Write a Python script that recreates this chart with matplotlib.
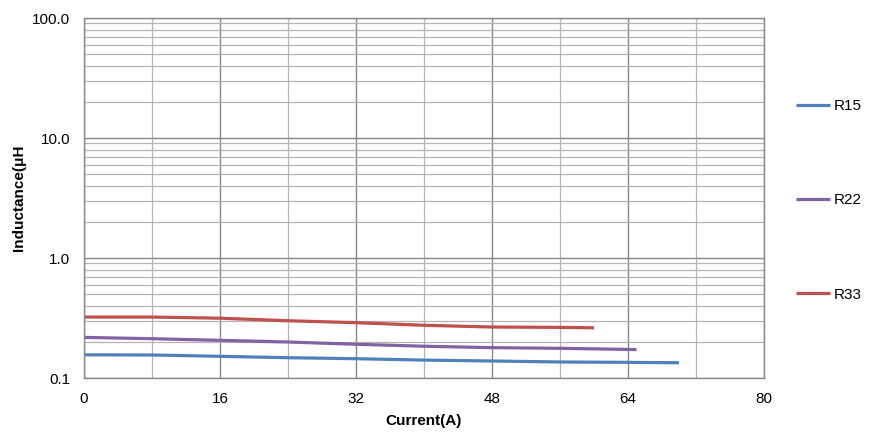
import matplotlib
matplotlib.use("Agg")
import matplotlib.pyplot as plt
from matplotlib.ticker import FixedLocator, FixedFormatter, LogLocator, NullFormatter

plt.rcParams['font.family'] = ['Liberation Sans', 'DejaVu Sans']

# data
x_r15 = [0, 8, 16, 24, 32, 40, 48, 56, 64, 70]
l_r15 = [0.156, 0.1555, 0.1516, 0.1476, 0.1448, 0.141, 0.1386, 0.136, 0.135, 0.134]

x_r22 = [0, 8, 16, 24, 32, 40, 48, 56, 64, 65]
l_r22 = [0.218, 0.2126, 0.206, 0.1995, 0.191, 0.184, 0.179, 0.1768, 0.173, 0.1725]

x_r33 = [0, 8, 16, 24, 32, 40, 48, 56, 60]
l_r33 = [0.322, 0.322, 0.315, 0.300, 0.289, 0.275, 0.266, 0.264, 0.262]

series = [("R15", x_r15, l_r15, "#4F81BD"),
          ("R22", x_r22, l_r22, "#8064A2"),
          ("R33", x_r33, l_r33, "#C0504D")]

x_ticks = [0, 16, 32, 48, 64, 80]
y_ticks = [0.1, 1, 10, 100]
y_labels = ["0.1", "1.0", "10.0", "100.0"]

fig = plt.figure(figsize=(8.74, 4.43), dpi=100)
ax = fig.add_axes([84 / 874, 65 / 443, 680 / 874, 360 / 443])

for name, xs, ys, c in series:
    ax.plot(xs, ys, color=c, lw=2.3, label=name, solid_capstyle='butt')

ax.set_yscale('log')
ax.set_xlim(0, 80)
ax.set_ylim(0.1, 100)

ax.xaxis.set_major_locator(FixedLocator(x_ticks))
ax.xaxis.set_minor_locator(FixedLocator(list(range(8, 80, 16))))
ax.yaxis.set_major_locator(FixedLocator(y_ticks))
ax.yaxis.set_major_formatter(FixedFormatter(y_labels))
ax.yaxis.set_minor_locator(LogLocator(base=10, subs=range(2, 10)))
ax.yaxis.set_minor_formatter(NullFormatter())

ax.grid(which='major', color='#888888', lw=1.0)
ax.grid(which='minor', color='#B4B4B4', lw=0.9)
ax.set_axisbelow(True)
ax.tick_params(which='both', length=0, labelsize=11, pad=10)
for s in ax.spines.values():
    s.set_color('#888888')
    s.set_linewidth(1.0)

ax.set_xlabel('Current(A)', fontsize=11, fontweight='bold', labelpad=6)
ax.set_ylabel('Inductance(μH', fontsize=11, fontweight='bold', labelpad=4)

fig.legend(loc='upper left', bbox_to_anchor=(790 / 874, 1 - 93 / 443),
           frameon=False, fontsize=11, handlelength=2.2, handletextpad=0.25,
           labelspacing=5.25, borderaxespad=0)

fig.savefig('out.png', dpi=100)
